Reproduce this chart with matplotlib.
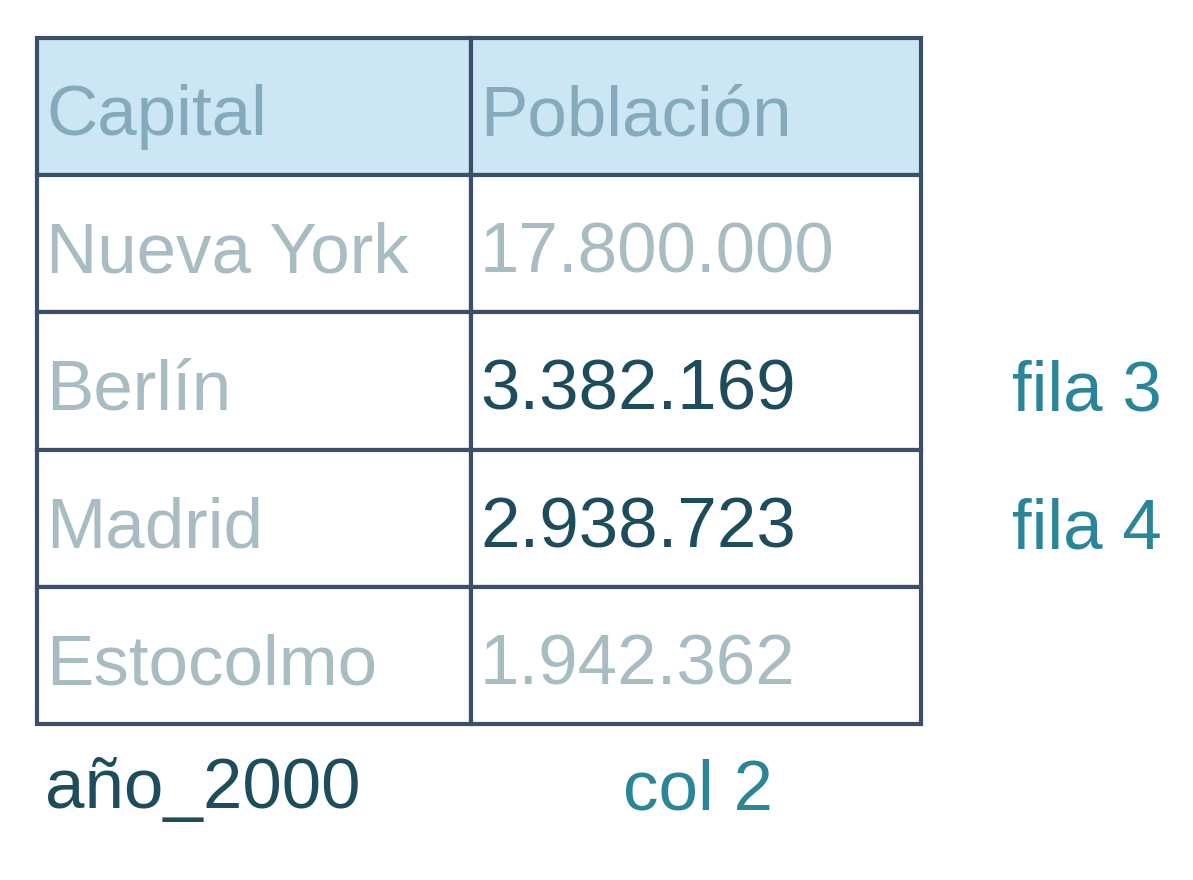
import matplotlib.pyplot as plt
from matplotlib.patches import Rectangle

plt.rcParams['font.family'] = ['Liberation Sans', 'DejaVu Sans']

header = ["Capital", "Población"]
capitals = ["Nueva York", "Berlín", "Madrid", "Estocolmo"]
populations = ["17.800.000", "3.382.169", "2.938.723", "1.942.362"]
highlighted_rows = [1, 2]  # Berlín, Madrid (0-based among data rows)
row_notes = {1: "fila 3", 2: "fila 4"}

HEADER_BG = "#cce6f3"
HEADER_FG = "#84aabb"
FADED = "#a8bcc3"
DARK = "#1d4c5c"
TEAL = "#2a8599"
BORDER = "#3c4f68"

fig = plt.figure(figsize=(11.93, 8.8), dpi=100)
ax = fig.add_axes([0, 0, 1, 1])
ax.set_xlim(0, 1193)
ax.set_ylim(880, 0)
ax.axis("off")

left, mid, right = 37, 471, 921
top, rh = 38, 137.2
fs = 51

rows = [header] + [[c, p] for c, p in zip(capitals, populations)]
for i, (a, b) in enumerate(rows):
    y0 = top + i * rh
    fill = HEADER_BG if i == 0 else "white"
    for x0, x1 in [(left, mid), (mid, right)]:
        ax.add_patch(Rectangle((x0, y0), x1 - x0, rh, facecolor=fill,
                               edgecolor=BORDER, linewidth=3))
    if i == 0:
        ca, cb = HEADER_FG, HEADER_FG
    else:
        ca = FADED
        cb = DARK if (i - 1) in highlighted_rows else FADED
    yb = y0 + rh * 0.71
    ax.text(left + 9, yb, a, color=ca, fontsize=fs, va="baseline", ha="left")
    ax.text(mid + 9, yb, b, color=cb, fontsize=fs, va="baseline", ha="left")
    if i >= 1 and (i - 1) in row_notes:
        ax.text(1162, yb + 1, row_notes[i - 1], color=TEAL, fontsize=fs,
                va="baseline", ha="right")

ax.text(45, 808, "año_2000", color=DARK, fontsize=fs, va="baseline", ha="left")
ax.text(698, 810, "col 2", color=TEAL, fontsize=fs, va="baseline", ha="center")

fig.savefig("out.png", dpi=100, facecolor="white")
